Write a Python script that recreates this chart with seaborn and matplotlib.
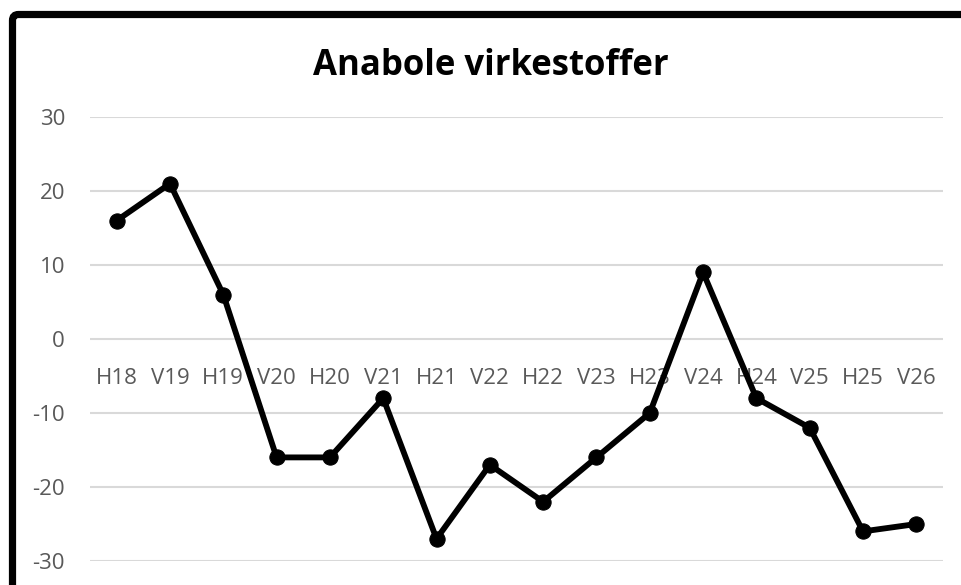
import matplotlib
matplotlib.use("Agg")
import matplotlib.pyplot as plt
import seaborn as sns
import pandas as pd
from matplotlib.patches import FancyBboxPatch

categories = ["H18", "V19", "H19", "V20", "H20", "V21", "H21", "V22",
              "H22", "V23", "H23", "V24", "H24", "V25", "H25", "V26"]
values = [16, 21, 6, -16, -16, -8, -27, -17, -22, -16, -10, 9, -8, -12, -26, -25]
yticks = [-30, -20, -10, 0, 10, 20, 30]
title = "Anabole virkestoffer"

sns.set_theme(style="white")
plt.rcParams['font.family'] = ['Open Sans', 'DejaVu Sans']

df = pd.DataFrame({"cat": categories, "val": values, "pos": range(len(categories))})

fig = plt.figure(figsize=(9.61, 5.85), dpi=100)
W, H = 961, 585
ax = fig.add_axes([90 / W, 1 - 561 / H, (943 - 90) / W, (561 - 117) / H])

for t in yticks:
    ax.axhline(t, color="#d9d9d9", lw=1.5, zorder=0)

sns.lineplot(data=df, x="pos", y="val", ax=ax, color="black", lw=4.2,
             marker="o", markersize=11, markeredgecolor="black", zorder=3,
             clip_on=False)

ax.set_xlim(-0.5, len(categories) - 0.5)
ax.set_ylim(-30, 30)
ax.set_yticks(yticks)
ax.set_yticklabels([str(t) for t in yticks], fontsize=16, color="#595959")
ax.tick_params(axis="y", length=0, pad=18)
ax.set_xticks([])
ax.set_xlabel("")
ax.set_ylabel("")
for s in ax.spines.values():
    s.set_visible(False)

for i, c in enumerate(categories):
    ax.text(i, -5.3, c, ha="center", va="center", fontsize=16,
            color="#595959", zorder=2)

fig.text(491 / W, 1 - 66 / H, title, ha="center", va="center",
         fontsize=25, fontweight="bold", color="black")

border = FancyBboxPatch((12.5, -60), 1100, H - 14.5 + 60,
                        boxstyle="round,pad=0,rounding_size=6",
                        transform=None, fill=False, edgecolor="black",
                        linewidth=5.2, figure=fig)
fig.patches.append(border)

fig.savefig("out.png", dpi=100)
